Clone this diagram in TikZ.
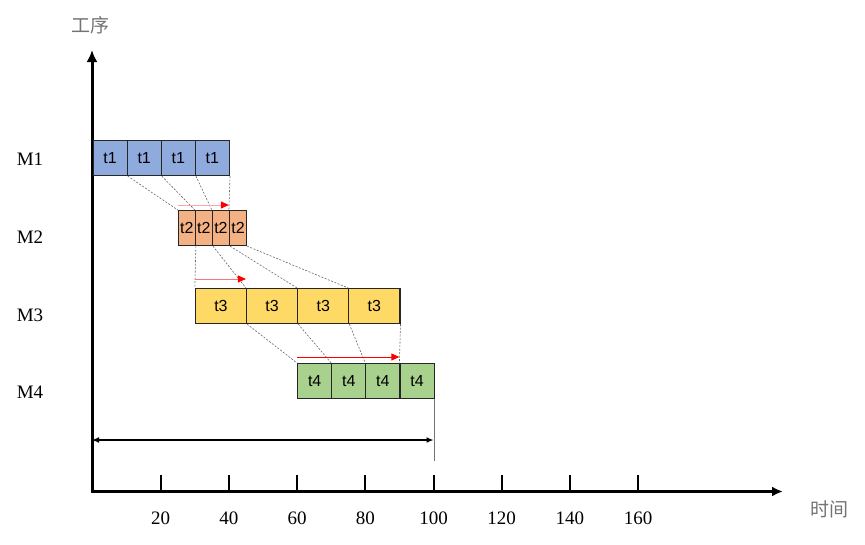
\documentclass[tikz,border=0pt]{standalone}
\usepackage{fontspec}
\setmainfont{Liberation Serif}
\setsansfont{Liberation Sans}
\newfontfamily\cjk{Noto Sans CJK SC}
\usepackage{xcolor}
\usepackage{tikz}
\usetikzlibrary{arrows.meta}
\definecolor{mblue}{HTML}{8FAADC}
\definecolor{morange}{HTML}{F4B183}
\definecolor{myellow}{HTML}{FFD966}
\definecolor{mgreen}{HTML}{A9D18E}
\tikzstyle{job}=[draw=black!85,line width=1.1pt,inner sep=0pt,minimum height=35pt,anchor=north west,font=\sffamily\fontsize{16}{16}\selectfont]
\tikzstyle{link}=[draw=black!60,dash pattern=on 2pt off 1.5pt,line width=0.6pt]
\tikzstyle{move}=[line width=1pt,-{Triangle[length=8pt,width=7pt,color=red]}]
\tikzstyle{machine}=[font=\fontsize{19}{19}\selectfont]
\tikzstyle{axislabel}=[text=black!55,font=\cjk\fontsize{19}{19}\selectfont]

\begin{document}
\begin{tikzpicture}[x=1pt,y=-1pt]
        \useasboundingbox (0,0) rectangle (865,544);
        % axes
        \coordinate (O) at (92,493);
        \coordinate (Oh) at (90.5,491.5);
        \coordinate (ytop) at (92,50);
        \coordinate (xend) at (783,491.5);
        \draw [line width=3pt,-{Latex[length=12pt,width=11pt]}] (O) -- (ytop);
        \draw [line width=3pt,-{Latex[length=11pt,width=10pt]}] (Oh) -- (xend);
        \node at (90,25) [axislabel] (ylab) {工序};
        \node at (829,509) [axislabel] (xlab) {时间};
        % ticks
        \foreach \t in {20,40,...,160} {
          \coordinate (k\t) at ({92.5+3.41*\t},491.5);
          \draw [line width=2pt] (k\t) -- ++(0,-16.5);
          \node at ({92.5+3.41*\t},518) [machine] (n\t) {\t};
        }
        % machines
        \node at (30,159.5) [machine] (M1) {M1};
        \node at (30,237.5) [machine] (M2) {M2};
        \node at (30,315) [machine] (M3) {M3};
        \node at (30,392) [machine] (M4) {M4};
        % jobs
        \foreach \row/\st/\du/\top/\col in {1/0/10/140/mblue,2/25/5/210/morange,3/30/15/288/myellow,4/60/10/363/mgreen}
          \foreach \i in {1,...,4}
            \node at ({92.5+3.41*(\st+(\i-1)*\du)},\top) [job,fill=\col,minimum width={3.41pt*\du}] (m\row-\i) {t\row};
        % transfers
        \foreach \i in {1,...,4} {
          \draw [link] (m1-\i.south east) -- (m2-\i.north west);
          \draw [link] (m2-\i.south east) -- (m3-\i.north west);
          \draw [link] (m3-\i.south east) -- (m4-\i.north west);
        }
        \draw [move,draw=red!35] ([yshift=5pt]m2-1.north west) -- ([yshift=5pt]m2-4.north west);
        \draw [move,draw=red!55] ([yshift=9pt]m3-1.north west) -- ([yshift=9pt]m3-2.north west);
        \draw [move,draw=red] ([yshift=6pt]m4-1.north west) -- ([yshift=6pt]m4-4.north west);
        % span
        \coordinate (s0) at (92,440);
        \coordinate (s1) at (433.5,440);
        \draw [line width=1.3pt,{Latex[length=7pt,width=6pt]}-{Latex[length=7pt,width=6pt]}] (s0) -- (s1);
        \draw [draw=black!55,line width=1.3pt] (m4-4.south east) -- ++(0,62);
      \end{tikzpicture}
\end{document}
